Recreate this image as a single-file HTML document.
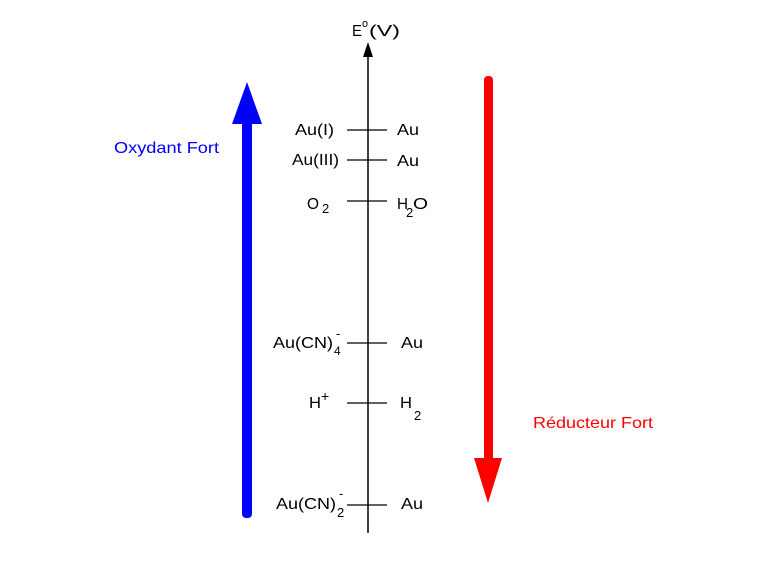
<!DOCTYPE html>
<html><head><meta charset="utf-8"><style>
html,body{margin:0;padding:0;background:#fff;}
svg{display:block;font-family:"Liberation Sans",Arial,sans-serif;}
</style></head><body>
<svg width="760" height="563" viewBox="0 0 760 563" xmlns="http://www.w3.org/2000/svg">
<rect width="760" height="563" fill="#fff"/>
<line x1="368" y1="56" x2="368" y2="533" stroke="#000" stroke-width="1.5"/>
<polygon points="368,42 363,57 373,57" fill="#000"/>
<g font-size="16" fill="#000" lengthAdjust="spacingAndGlyphs">
<text x="352" y="36" textLength="10" lengthAdjust="spacingAndGlyphs">E</text>
<text x="362" y="27" font-size="11" textLength="6" lengthAdjust="spacingAndGlyphs">o</text>
<text x="369" y="36" textLength="31" lengthAdjust="spacingAndGlyphs">(V)</text>
</g>
<g stroke="#000" stroke-width="1.3">
<line x1="347" y1="130" x2="387" y2="130"/>
<line x1="347" y1="160" x2="387" y2="160"/>
<line x1="347" y1="201" x2="387" y2="201"/>
<line x1="347" y1="343" x2="387" y2="343"/>
<line x1="347" y1="403" x2="387" y2="403"/>
<line x1="347" y1="505" x2="387" y2="505"/>
</g>
<g font-size="16" fill="#000">
<text x="295" y="135" textLength="39" lengthAdjust="spacingAndGlyphs">Au(I)</text>
<text x="397" y="135" textLength="22" lengthAdjust="spacingAndGlyphs">Au</text>
<text x="292" y="165" textLength="47" lengthAdjust="spacingAndGlyphs">Au(III)</text>
<text x="397" y="166" textLength="22" lengthAdjust="spacingAndGlyphs">Au</text>
<text x="307" y="209" textLength="12" lengthAdjust="spacingAndGlyphs">O</text>
<text x="322" y="213" font-size="13">2</text>
<text x="397" y="209" textLength="11" lengthAdjust="spacingAndGlyphs">H</text>
<text x="406" y="217" font-size="13">2</text>
<text x="413" y="209" textLength="15" lengthAdjust="spacingAndGlyphs">O</text>
<text x="273" y="348" textLength="60" lengthAdjust="spacingAndGlyphs">Au(CN)</text>
<text x="336" y="338" font-size="13">-</text>
<text x="334" y="355" font-size="12">4</text>
<text x="401" y="348" textLength="22" lengthAdjust="spacingAndGlyphs">Au</text>
<text x="309" y="408" textLength="12" lengthAdjust="spacingAndGlyphs">H</text>
<text x="321" y="401" font-size="14">+</text>
<text x="400" y="408" textLength="12" lengthAdjust="spacingAndGlyphs">H</text>
<text x="414" y="420" font-size="13">2</text>
<text x="276" y="509" textLength="60" lengthAdjust="spacingAndGlyphs">Au(CN)</text>
<text x="339" y="498" font-size="13">-</text>
<text x="337" y="517" font-size="13">2</text>
<text x="401" y="509" textLength="22" lengthAdjust="spacingAndGlyphs">Au</text>
</g>
<rect x="242" y="120" width="10" height="398" rx="4" fill="#0000ff"/>
<polygon points="247,82 232,124 262,124" fill="#0000ff"/>
<text x="114" y="153" font-size="16" fill="#0000ff" textLength="105" lengthAdjust="spacingAndGlyphs">Oxydant Fort</text>
<rect x="484" y="76" width="9" height="386" rx="4" fill="#ff0000"/>
<polygon points="474,458 502,458 488,503" fill="#ff0000"/>
<text x="533" y="428" font-size="16" fill="#ff0000" textLength="120" lengthAdjust="spacingAndGlyphs">Réducteur Fort</text>
</svg>
</body></html>
